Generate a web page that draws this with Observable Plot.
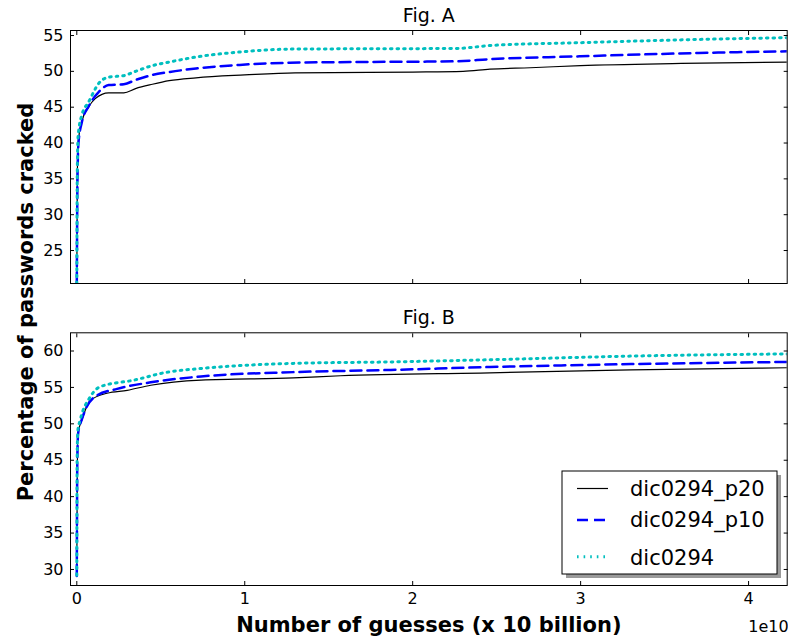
<!DOCTYPE html>
<html>
<head>
<meta charset="utf-8">
<script src="https://cdn.jsdelivr.net/npm/d3@7"></script>
<script src="https://cdn.jsdelivr.net/npm/@observablehq/plot@0.6"></script>
<style>
  body { margin: 0; background: #fff; }
  #chart { position: relative; width: 788px; height: 638px; font-family: "DejaVu Sans", sans-serif; color: #000; }
  #chart svg { display: block; overflow: visible; }
  .ylab {
    position: absolute; left: 26px; top: 302px;
    transform: translate(-50%, -50%) rotate(-90deg);
    font-size: 21px; font-weight: bold; line-height: 21px; white-space: nowrap;
  }
  #legend { position: absolute; left: 0; top: 0; pointer-events: none; }
</style>
</head>
<body>
<div id="chart"></div>
<script>
// Guesses in units of 1e10, share of passwords cracked in percent.
const seriesNames = ["dic0294_p20", "dic0294_p10", "dic0294"];

const figA_p20 = [[0,20.4],[0.003,35],[0.008,40],[0.03,43],[0.07,45],[0.11,46.2],[0.19,47.0],[0.28,47.0],[0.35,47.6],[0.45,48.2],[0.55,48.7],[0.71,49.1],[1.0,49.5],[1.3,49.8],[2.0,49.9],[2.3,50.0],[2.46,50.3],[2.7,50.5],[3.0,50.8],[3.6,51.1],[4.23,51.3]];
const figA_p10 = [[0,20.4],[0.004,35],[0.01,40],[0.03,42.9],[0.07,45.1],[0.13,47.1],[0.19,48.1],[0.28,48.2],[0.35,48.8],[0.45,49.5],[0.55,49.9],[0.71,50.4],[0.97,50.9],[1.27,51.2],[1.67,51.3],[2.26,51.4],[2.46,51.7],[3.0,52.1],[3.59,52.5],[4.23,52.8]];
const figA_all = [[0,20.4],[0.003,36],[0.008,41],[0.03,43.9],[0.07,45.7],[0.13,48.3],[0.19,49.2],[0.28,49.4],[0.35,50.0],[0.45,50.8],[0.55,51.3],[0.71,52.0],[0.97,52.7],[1.27,53.1],[2.26,53.2],[2.46,53.6],[3.0,54.0],[3.79,54.5],[4.23,54.7]];

const figB_p20 = [[0,29.5],[0.002,40],[0.005,48.5],[0.03,50.5],[0.08,53.2],[0.18,54.2],[0.30,54.6],[0.44,55.3],[0.74,56.0],[1.29,56.3],[1.57,56.6],[2.46,57.0],[3.3,57.4],[4.23,57.7]];
const figB_p10 = [[0,29.1],[0.003,45],[0.008,48.7],[0.03,50.6],[0.05,51.9],[0.12,53.9],[0.24,54.8],[0.44,55.7],[0.74,56.5],[1.29,57.1],[1.87,57.4],[2.46,57.8],[3.3,58.2],[4.23,58.5]];
const figB_all = [[0,29.2],[0.002,45],[0.006,49],[0.02,50.5],[0.08,53.7],[0.14,55.1],[0.34,56.0],[0.54,57.1],[0.74,57.6],[1.29,58.3],[1.87,58.5],[2.46,58.8],[3.3,59.3],[4.23,59.6]];

const xTicks = [0, 1, 2, 3, 4];
const yTicksA = [25, 30, 35, 40, 45, 50, 55];
const yTicksB = [30, 35, 40, 45, 50, 55, 60];

const xDomain = [-0.0375, 4.23];
const yDomainA = [20.4, 55.7];
const yDomainB = [27.8, 62.5];

const styles = [
  {stroke: "#000000", strokeWidth: 1.2},
  {stroke: "#0000ff", strokeWidth: 2.5, strokeDasharray: "11,6"},
  {stroke: "#00bfbf", strokeWidth: 3, strokeDasharray: "1.6,5"}
];

const blank = () => "";
const plain = d => String(d);

function panel({series, yDomain, yTicks, title, height, marginTop, marginBottom, xLabels}) {
  const marks = [
    Plot.axisY(yTicks, {anchor: "left", tickSize: 0, tickPadding: 7, tickFormat: plain, label: null}),
    Plot.axisY(yTicks, {anchor: "left", tickSize: -4, tickFormat: blank, label: null}),
    Plot.axisY(yTicks, {anchor: "right", tickSize: -4, tickFormat: blank, label: null}),
    Plot.axisX(xTicks, {anchor: "top", tickSize: -4, tickFormat: blank, label: null}),
    Plot.axisX(xTicks, {anchor: "bottom", tickSize: -4, tickFormat: blank, label: null}),
    ...series.map((data, i) => Plot.line(data, {
      x: d => d[0], y: d => d[1], curve: "monotone-x", clip: true, ...styles[i]
    })),
    Plot.frame({stroke: "#000", strokeWidth: 1}),
    Plot.text([title], {frameAnchor: "top", lineAnchor: "middle", dy: -15, fontSize: 19, text: d => d})
  ];
  if (xLabels) {
    marks.push(
      Plot.axisX(xTicks, {anchor: "bottom", tickSize: 0, tickPadding: 7.5, tickFormat: plain, label: null}),
      Plot.text(["Number of guesses (x 10 billion)"], {frameAnchor: "bottom", lineAnchor: "middle", dy: 40, fontSize: 21, fontWeight: "bold", text: d => d}),
      Plot.text(["1e10"], {frameAnchor: "bottom-right", lineAnchor: "middle", textAnchor: "end", dx: 1.5, dy: 41, fontSize: 16, text: d => d})
    );
  }
  return Plot.plot({
    width: 788, height,
    marginLeft: 70, marginRight: 1.3, marginTop, marginBottom,
    style: {fontFamily: "DejaVu Sans, sans-serif", fontSize: "16px", color: "#000", background: "#fff", overflow: "visible"},
    x: {domain: xDomain, label: null},
    y: {domain: yDomain, label: null},
    marks
  });
}

const chart = document.getElementById("chart");
chart.append(panel({
  series: [figA_p20, figA_p10, figA_all], yDomain: yDomainA, yTicks: yTicksA,
  title: "Fig. A", height: 300, marginTop: 30, marginBottom: 17, xLabels: false
}));
chart.append(panel({
  series: [figB_p20, figB_p10, figB_all], yDomain: yDomainB, yTicks: yTicksB,
  title: "Fig. B", height: 338, marginTop: 32.3, marginBottom: 53, xLabels: true
}));

const ylab = document.createElement("div");
ylab.className = "ylab";
ylab.textContent = "Percentage of passwords cracked";
chart.append(ylab);

// Legend box with drop shadow, placed in the lower right of Fig. B
const box = {x: 562, y: 471, w: 215, h: 103};
const rows = [{line: 488.5, base: 496}, {line: 520, base: 527}, {line: 556.8, base: 565}];
const leg = d3.select(chart).append("svg").attr("id", "legend").attr("width", 788).attr("height", 638);
leg.append("rect").attr("x", box.x + 4).attr("y", box.y + 4).attr("width", box.w).attr("height", box.h)
  .attr("fill", "#9a9a9a");
leg.append("rect").attr("x", box.x).attr("y", box.y).attr("width", box.w).attr("height", box.h)
  .attr("fill", "#fff").attr("stroke", "#000").attr("stroke-width", 1);
seriesNames.forEach((name, i) => {
  const s = styles[i];
  leg.append("line").attr("x1", box.x + 15).attr("x2", box.x + 46)
    .attr("y1", rows[i].line).attr("y2", rows[i].line)
    .attr("stroke", s.stroke).attr("stroke-width", s.strokeWidth)
    .attr("stroke-dasharray", s.strokeDasharray || null);
  leg.append("text").attr("x", box.x + 68).attr("y", rows[i].base)
    .attr("font-family", "DejaVu Sans, sans-serif").attr("font-size", 21).attr("fill", "#000")
    .text(name);
});
</script>
</body>
</html>
